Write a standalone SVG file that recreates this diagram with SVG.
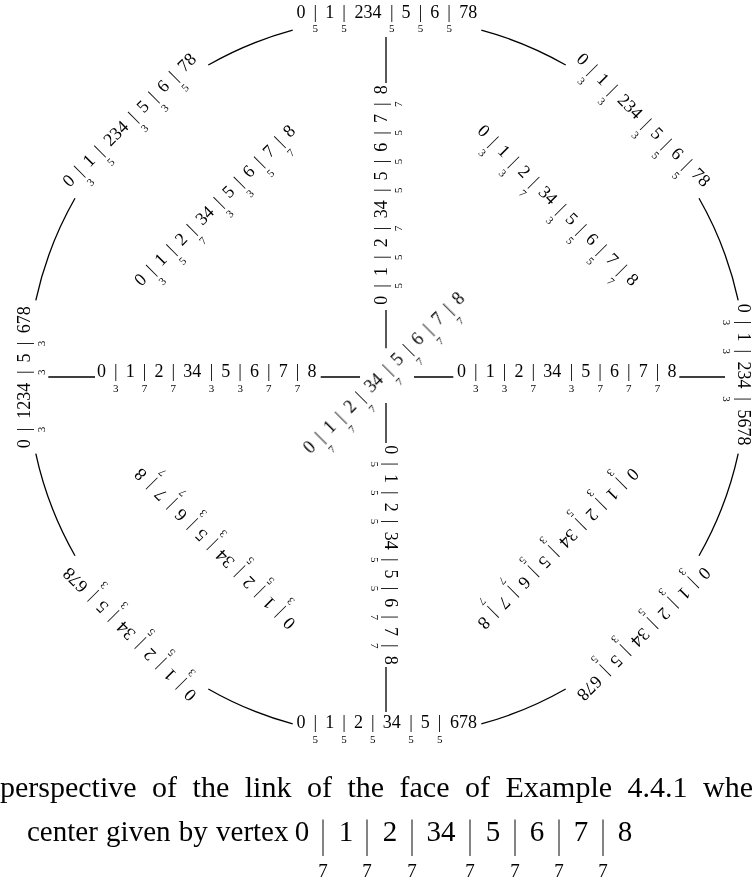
<svg xmlns="http://www.w3.org/2000/svg" width="754" height="892" viewBox="0 0 754 892">
<style>
.t{font-family:"Liberation Serif","DejaVu Serif",serif;font-size:18px;text-anchor:middle;fill:#000}
.s{font-family:"Liberation Serif","DejaVu Serif",serif;font-size:11px;text-anchor:middle;fill:#000}
.ln{stroke:#000;stroke-width:1.3;fill:none}
.c{font-family:"Liberation Serif","DejaVu Serif",serif;font-size:30px;fill:#000}
.c2{font-family:"Liberation Serif","DejaVu Serif",serif;font-size:29px;fill:#000}
.cm{font-family:"Liberation Serif","DejaVu Serif",serif;font-size:29px;text-anchor:middle;fill:#000}
.cb{font-family:"Liberation Serif","DejaVu Serif",serif;font-size:40px;text-anchor:middle;fill:#000}
.cs{font-family:"Liberation Serif","DejaVu Serif",serif;font-size:19px;text-anchor:middle;fill:#000}
</style>
<rect width="754" height="892" fill="#fff"/>
<g id="connectors" class="ln">
<path d="M48.3,377H95 M320.7,377H360 M414,377H453.3 M679.3,377H725 M386,37V83 M386,310V348.3 M386,403V443 M386,667V712"/>
<path d="M292.7,30.1A359.5,359.5 0 0 0 208.3,65 M75,198.3A359.5,359.5 0 0 0 35.8,300.4 M35.8,453.6A359.5,359.5 0 0 0 75,555.7 M208.3,689A359.5,359.5 0 0 0 292.7,723.9 M481.3,723.9A359.5,359.5 0 0 0 565.7,689 M699,555.7A359.5,359.5 0 0 0 738.2,453.6 M738.2,300.4A359.5,359.5 0 0 0 699,198.3 M565.7,65A359.5,359.5 0 0 0 481.3,30.1"/>
</g>
<g id="labels" opacity="0.995">
<g id="outer-top" transform="translate(387,17.5)">
<text class="t"><tspan x="-86">0</tspan><tspan x="-71.65"> | </tspan><tspan x="-57.3">1</tspan><tspan x="-42.95"> | </tspan><tspan x="-19.1">234</tspan><tspan x="4.75"> | </tspan><tspan x="19.1">5</tspan><tspan x="33.45"> | </tspan><tspan x="47.8">6</tspan><tspan x="62.15"> | </tspan><tspan x="81.25">78</tspan></text>
<text class="s" y="14.5"><tspan x="-71.65">5</tspan><tspan x="-42.95">5</tspan><tspan x="4.75">5</tspan><tspan x="33.45">5</tspan><tspan x="62.15">5</tspan></text>
</g>
<g id="outer-top-right" transform="translate(639.5,124) rotate(45)">
<text class="t"><tspan x="-86">0</tspan><tspan x="-71.65"> | </tspan><tspan x="-57.3">1</tspan><tspan x="-42.95"> | </tspan><tspan x="-19.1">234</tspan><tspan x="4.75"> | </tspan><tspan x="19.1">5</tspan><tspan x="33.45"> | </tspan><tspan x="47.8">6</tspan><tspan x="62.15"> | </tspan><tspan x="81.25">78</tspan></text>
<text class="s" y="14.5"><tspan x="-71.65">3</tspan><tspan x="-42.95">3</tspan><tspan x="4.75">3</tspan><tspan x="33.45">5</tspan><tspan x="62.15">5</tspan></text>
</g>
<g id="outer-right" transform="translate(738,375) rotate(90)">
<text class="t"><tspan x="-66.8">0</tspan><tspan x="-52.45"> | </tspan><tspan x="-38.1">1</tspan><tspan x="-23.75"> | </tspan><tspan x="0.1">234</tspan><tspan x="23.95"> | </tspan><tspan x="52.55">5678</tspan></text>
<text class="s" y="14.5"><tspan x="-52.45">3</tspan><tspan x="-23.75">3</tspan><tspan x="23.95">3</tspan></text>
</g>
<g id="outer-bottom-right" transform="translate(639.5,630) rotate(135)">
<text class="t"><tspan x="-86">0</tspan><tspan x="-71.65"> | </tspan><tspan x="-57.3">1</tspan><tspan x="-42.95"> | </tspan><tspan x="-28.6">2</tspan><tspan x="-14.25"> | </tspan><tspan x="4.85">34</tspan><tspan x="23.95"> | </tspan><tspan x="38.3">5</tspan><tspan x="52.65"> | </tspan><tspan x="76.5">678</tspan></text>
<text class="s" y="14.5"><tspan x="-71.65">3</tspan><tspan x="-42.95">3</tspan><tspan x="-14.25">5</tspan><tspan x="23.95">3</tspan><tspan x="52.65">5</tspan></text>
</g>
<g id="outer-bottom" transform="translate(387,728)">
<text class="t"><tspan x="-86">0</tspan><tspan x="-71.65"> | </tspan><tspan x="-57.3">1</tspan><tspan x="-42.95"> | </tspan><tspan x="-28.6">2</tspan><tspan x="-14.25"> | </tspan><tspan x="4.85">34</tspan><tspan x="23.95"> | </tspan><tspan x="38.3">5</tspan><tspan x="52.65"> | </tspan><tspan x="76.5">678</tspan></text>
<text class="s" y="14.5"><tspan x="-71.65">5</tspan><tspan x="-42.95">5</tspan><tspan x="-14.25">5</tspan><tspan x="23.95">5</tspan><tspan x="52.65">5</tspan></text>
</g>
<g id="outer-bottom-left" transform="translate(133.5,630) rotate(-135)">
<text class="t"><tspan x="-86">0</tspan><tspan x="-71.65"> | </tspan><tspan x="-57.3">1</tspan><tspan x="-42.95"> | </tspan><tspan x="-28.6">2</tspan><tspan x="-14.25"> | </tspan><tspan x="4.85">34</tspan><tspan x="23.95"> | </tspan><tspan x="38.3">5</tspan><tspan x="52.65"> | </tspan><tspan x="76.5">678</tspan></text>
<text class="s" y="14.5"><tspan x="-71.65">3</tspan><tspan x="-42.95">5</tspan><tspan x="-14.25">5</tspan><tspan x="23.95">3</tspan><tspan x="52.65">3</tspan></text>
</g>
<g id="outer-left" transform="translate(30,377) rotate(-90)">
<text class="t"><tspan x="-66.8">0</tspan><tspan x="-52.45"> | </tspan><tspan x="-23.85">1234</tspan><tspan x="4.75"> | </tspan><tspan x="19.1">5</tspan><tspan x="33.45"> | </tspan><tspan x="57.3">678</tspan></text>
<text class="s" y="14.5"><tspan x="-52.45">3</tspan><tspan x="4.75">3</tspan><tspan x="33.45">3</tspan></text>
</g>
<g id="outer-top-left" transform="translate(133.5,124) rotate(-45)">
<text class="t"><tspan x="-86">0</tspan><tspan x="-71.65"> | </tspan><tspan x="-57.3">1</tspan><tspan x="-42.95"> | </tspan><tspan x="-19.1">234</tspan><tspan x="4.75"> | </tspan><tspan x="19.1">5</tspan><tspan x="33.45"> | </tspan><tspan x="47.8">6</tspan><tspan x="62.15"> | </tspan><tspan x="81.25">78</tspan></text>
<text class="s" y="14.5"><tspan x="-71.65">3</tspan><tspan x="-42.95">5</tspan><tspan x="4.75">3</tspan><tspan x="33.45">3</tspan><tspan x="62.15">5</tspan></text>
</g>
<g id="inner-top" transform="translate(387,195) rotate(-90)">
<text class="t"><tspan x="-105.2">0</tspan><tspan x="-90.85"> | </tspan><tspan x="-76.5">1</tspan><tspan x="-62.15"> | </tspan><tspan x="-47.8">2</tspan><tspan x="-33.45"> | </tspan><tspan x="-14.35">34</tspan><tspan x="4.75"> | </tspan><tspan x="19.1">5</tspan><tspan x="33.45"> | </tspan><tspan x="47.8">6</tspan><tspan x="62.15"> | </tspan><tspan x="76.5">7</tspan><tspan x="90.85"> | </tspan><tspan x="105.2">8</tspan></text>
<text class="s" y="14.5"><tspan x="-90.85">5</tspan><tspan x="-62.15">5</tspan><tspan x="-33.45">7</tspan><tspan x="4.75">5</tspan><tspan x="33.45">5</tspan><tspan x="62.15">5</tspan><tspan x="90.85">7</tspan></text>
</g>
<g id="inner-right" transform="translate(566.7,377)">
<text class="t"><tspan x="-105.2">0</tspan><tspan x="-90.85"> | </tspan><tspan x="-76.5">1</tspan><tspan x="-62.15"> | </tspan><tspan x="-47.8">2</tspan><tspan x="-33.45"> | </tspan><tspan x="-14.35">34</tspan><tspan x="4.75"> | </tspan><tspan x="19.1">5</tspan><tspan x="33.45"> | </tspan><tspan x="47.8">6</tspan><tspan x="62.15"> | </tspan><tspan x="76.5">7</tspan><tspan x="90.85"> | </tspan><tspan x="105.2">8</tspan></text>
<text class="s" y="14.5"><tspan x="-90.85">3</tspan><tspan x="-62.15">3</tspan><tspan x="-33.45">7</tspan><tspan x="4.75">3</tspan><tspan x="33.45">7</tspan><tspan x="62.15">7</tspan><tspan x="90.85">7</tspan></text>
</g>
<g id="inner-bottom" transform="translate(385,555) rotate(90)">
<text class="t"><tspan x="-105.2">0</tspan><tspan x="-90.85"> | </tspan><tspan x="-76.5">1</tspan><tspan x="-62.15"> | </tspan><tspan x="-47.8">2</tspan><tspan x="-33.45"> | </tspan><tspan x="-14.35">34</tspan><tspan x="4.75"> | </tspan><tspan x="19.1">5</tspan><tspan x="33.45"> | </tspan><tspan x="47.8">6</tspan><tspan x="62.15"> | </tspan><tspan x="76.5">7</tspan><tspan x="90.85"> | </tspan><tspan x="105.2">8</tspan></text>
<text class="s" y="14.5"><tspan x="-90.85">5</tspan><tspan x="-62.15">5</tspan><tspan x="-33.45">5</tspan><tspan x="4.75">5</tspan><tspan x="33.45">5</tspan><tspan x="62.15">7</tspan><tspan x="90.85">7</tspan></text>
</g>
<g id="inner-left" transform="translate(206.7,377)">
<text class="t"><tspan x="-105.2">0</tspan><tspan x="-90.85"> | </tspan><tspan x="-76.5">1</tspan><tspan x="-62.15"> | </tspan><tspan x="-47.8">2</tspan><tspan x="-33.45"> | </tspan><tspan x="-14.35">34</tspan><tspan x="4.75"> | </tspan><tspan x="19.1">5</tspan><tspan x="33.45"> | </tspan><tspan x="47.8">6</tspan><tspan x="62.15"> | </tspan><tspan x="76.5">7</tspan><tspan x="90.85"> | </tspan><tspan x="105.2">8</tspan></text>
<text class="s" y="14.5"><tspan x="-90.85">3</tspan><tspan x="-62.15">7</tspan><tspan x="-33.45">7</tspan><tspan x="4.75">3</tspan><tspan x="33.45">3</tspan><tspan x="62.15">7</tspan><tspan x="90.85">7</tspan></text>
</g>
<g id="inner-top-left" transform="translate(218.9,209.4) rotate(-45)">
<text class="t"><tspan x="-105.2">0</tspan><tspan x="-90.85"> | </tspan><tspan x="-76.5">1</tspan><tspan x="-62.15"> | </tspan><tspan x="-47.8">2</tspan><tspan x="-33.45"> | </tspan><tspan x="-14.35">34</tspan><tspan x="4.75"> | </tspan><tspan x="19.1">5</tspan><tspan x="33.45"> | </tspan><tspan x="47.8">6</tspan><tspan x="62.15"> | </tspan><tspan x="76.5">7</tspan><tspan x="90.85"> | </tspan><tspan x="105.2">8</tspan></text>
<text class="s" y="14.5"><tspan x="-90.85">3</tspan><tspan x="-62.15">5</tspan><tspan x="-33.45">7</tspan><tspan x="4.75">3</tspan><tspan x="33.45">3</tspan><tspan x="62.15">5</tspan><tspan x="90.85">7</tspan></text>
</g>
<g id="inner-top-right" transform="translate(554.1,209.4) rotate(45)">
<text class="t"><tspan x="-105.2">0</tspan><tspan x="-90.85"> | </tspan><tspan x="-76.5">1</tspan><tspan x="-62.15"> | </tspan><tspan x="-47.8">2</tspan><tspan x="-33.45"> | </tspan><tspan x="-14.35">34</tspan><tspan x="4.75"> | </tspan><tspan x="19.1">5</tspan><tspan x="33.45"> | </tspan><tspan x="47.8">6</tspan><tspan x="62.15"> | </tspan><tspan x="76.5">7</tspan><tspan x="90.85"> | </tspan><tspan x="105.2">8</tspan></text>
<text class="s" y="14.5"><tspan x="-90.85">3</tspan><tspan x="-62.15">3</tspan><tspan x="-33.45">7</tspan><tspan x="4.75">3</tspan><tspan x="33.45">5</tspan><tspan x="62.15">5</tspan><tspan x="90.85">7</tspan></text>
</g>
<g id="inner-bottom-right" transform="translate(554.1,544.6) rotate(135)">
<text class="t"><tspan x="-105.2">0</tspan><tspan x="-90.85"> | </tspan><tspan x="-76.5">1</tspan><tspan x="-62.15"> | </tspan><tspan x="-47.8">2</tspan><tspan x="-33.45"> | </tspan><tspan x="-14.35">34</tspan><tspan x="4.75"> | </tspan><tspan x="19.1">5</tspan><tspan x="33.45"> | </tspan><tspan x="47.8">6</tspan><tspan x="62.15"> | </tspan><tspan x="76.5">7</tspan><tspan x="90.85"> | </tspan><tspan x="105.2">8</tspan></text>
<text class="s" y="14.5"><tspan x="-90.85">3</tspan><tspan x="-62.15">3</tspan><tspan x="-33.45">5</tspan><tspan x="4.75">3</tspan><tspan x="33.45">5</tspan><tspan x="62.15">7</tspan><tspan x="90.85">7</tspan></text>
</g>
<g id="inner-bottom-left" transform="translate(218.9,544.6) rotate(-135)">
<text class="t"><tspan x="-105.2">0</tspan><tspan x="-90.85"> | </tspan><tspan x="-76.5">1</tspan><tspan x="-62.15"> | </tspan><tspan x="-47.8">2</tspan><tspan x="-33.45"> | </tspan><tspan x="-14.35">34</tspan><tspan x="4.75"> | </tspan><tspan x="19.1">5</tspan><tspan x="33.45"> | </tspan><tspan x="47.8">6</tspan><tspan x="62.15"> | </tspan><tspan x="76.5">7</tspan><tspan x="90.85"> | </tspan><tspan x="105.2">8</tspan></text>
<text class="s" y="14.5"><tspan x="-90.85">3</tspan><tspan x="-62.15">5</tspan><tspan x="-33.45">5</tspan><tspan x="4.75">3</tspan><tspan x="33.45">3</tspan><tspan x="62.15">7</tspan><tspan x="90.85">7</tspan></text>
</g>
<g id="center" transform="translate(388,377) rotate(-45)">
<text class="t"><tspan x="-105.2">0</tspan><tspan x="-90.85"> | </tspan><tspan x="-76.5">1</tspan><tspan x="-62.15"> | </tspan><tspan x="-47.8">2</tspan><tspan x="-33.45"> | </tspan><tspan x="-14.35">34</tspan><tspan x="4.75"> | </tspan><tspan x="19.1">5</tspan><tspan x="33.45"> | </tspan><tspan x="47.8">6</tspan><tspan x="62.15"> | </tspan><tspan x="76.5">7</tspan><tspan x="90.85"> | </tspan><tspan x="105.2">8</tspan></text>
<text class="s" y="14.5"><tspan x="-90.85">7</tspan><tspan x="-62.15">7</tspan><tspan x="-33.45">7</tspan><tspan x="4.75">7</tspan><tspan x="33.45">7</tspan><tspan x="62.15">7</tspan><tspan x="90.85">7</tspan></text>
</g>
<g id="caption">
<text class="c" x="0" y="797" word-spacing="8">perspective of the link of the face of Example 4.4.1 whe</text>
<text class="c2" x="27" y="841" word-spacing="1">center given by vertex</text>
<text class="cm" y="841"><tspan x="302">0</tspan><tspan x="346">1</tspan><tspan x="390">2</tspan><tspan x="441">34</tspan><tspan x="493">5</tspan><tspan x="537">6</tspan><tspan x="581">7</tspan><tspan x="625">8</tspan></text>
<text class="cb" y="847" transform="scale(0.5,1)"><tspan x="646">|</tspan><tspan x="734">|</tspan><tspan x="824">|</tspan><tspan x="940">|</tspan><tspan x="1030">|</tspan><tspan x="1118">|</tspan><tspan x="1206">|</tspan></text>
<text class="cs" y="877"><tspan x="323">7</tspan><tspan x="367">7</tspan><tspan x="412">7</tspan><tspan x="470">7</tspan><tspan x="515">7</tspan><tspan x="559">7</tspan><tspan x="603">7</tspan></text>
</g>
</g>
</svg>
